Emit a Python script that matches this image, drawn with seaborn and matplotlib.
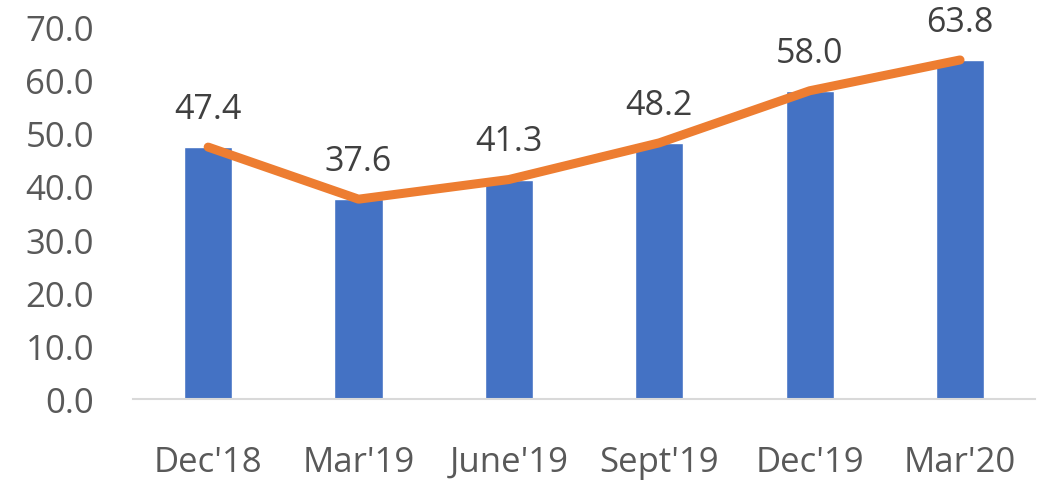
import pandas as pd
import seaborn as sns
import matplotlib.pyplot as plt

# Data
quarters = ["Dec'18", "Mar'19", "June'19", "Sept'19", "Dec'19", "Mar'20"]
values = [47.4, 37.6, 41.3, 48.2, 58.0, 63.8]

df = pd.DataFrame({'quarter': quarters, 'value': values})

sns.set_style('white')
plt.rcParams['font.family'] = ['Open Sans', 'DejaVu Sans']

fig = plt.figure(figsize=(10.51, 4.81), dpi=100)
ax = fig.add_axes([0.1265, 0.1684, 0.8585, 0.7734])

# bars
sns.barplot(data=df, x='quarter', y='value', color='#4472C4', width=0.32,
            saturation=1, ax=ax)

# line over the bars
sns.lineplot(data=df, x='quarter', y='value', color='#ED7D31', linewidth=6.5,
             sort=False, ax=ax, solid_capstyle='round')

# labels above points
for i, v in enumerate(values):
    ax.annotate(f'{v:.1f}', (i, v), xytext=(0, 21), textcoords='offset points',
                ha='center', va='baseline', fontsize=24.5, color='#404040')

ax.set_ylim(0, 70)
ax.set_xlim(-0.5, len(quarters) - 0.5)
ax.set_yticks(range(0, 71, 10))
ax.set_yticklabels([f'{t:.1f}' for t in range(0, 71, 10)])
ax.set_xlabel('')
ax.set_ylabel('')
ax.tick_params(axis='both', length=0, labelsize=25, labelcolor='#595959')
ax.tick_params(axis='x', pad=33)
ax.tick_params(axis='y', pad=28)

for s in ['top', 'right', 'left']:
    ax.spines[s].set_visible(False)
ax.spines['bottom'].set_color('#D9D9D9')
ax.spines['bottom'].set_linewidth(1.5)

fig.savefig('out.png', dpi=100)
